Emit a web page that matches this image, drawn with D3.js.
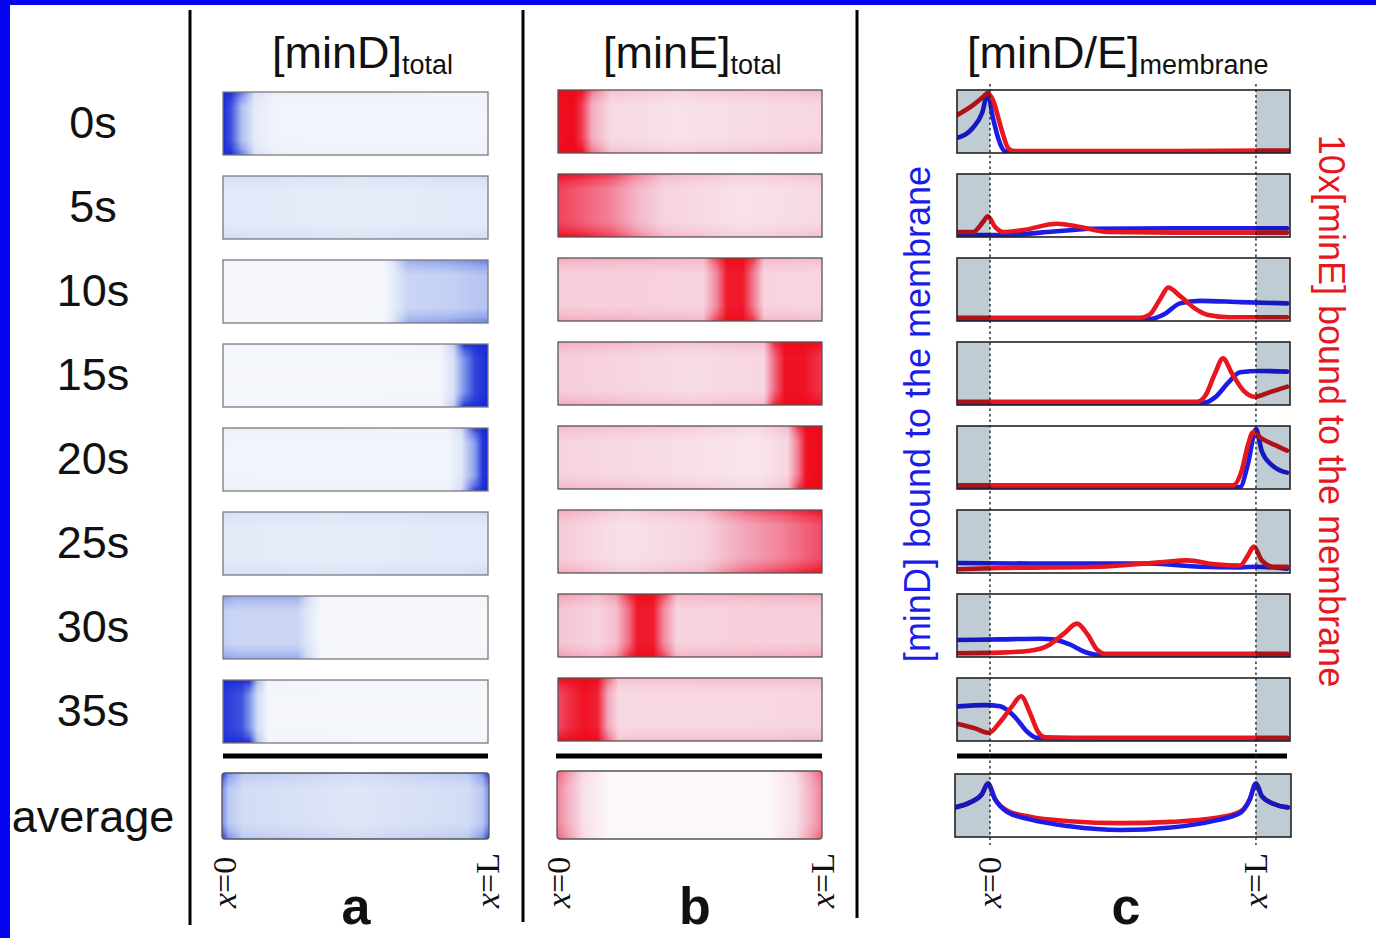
<!DOCTYPE html>
<html><head><meta charset="utf-8">
<script src="https://cdn.jsdelivr.net/npm/d3@7"></script>
<style>body{margin:0;background:#fff}svg{display:block}</style>
</head><body>
<svg id="fig" width="1376" height="938"></svg>
<script>
// ---------------- DATA ----------------
const timeLabels = ["0s","5s","10s","15s","20s","25s","30s","35s"];
const avgLabel = "average";
const panelLetters = ["a","b","c"];
const xEndLabels = ["0","L"];

// [minD]total profiles along the cell: [position (0..1), relative level]
const minDTotal = [
  [[0,1],[0.03,0.85],[0.07,0.42],[0.12,0.12],[0.2,0.05],[1,0.04]],
  [[0,0.14],[0.5,0.11],[1,0.14]],
  [[0,0.02],[0.6,0.02],[0.64,0.1],[0.7,0.3],[0.85,0.33],[1,0.4]],
  [[0,0.02],[0.82,0.03],[0.87,0.2],[0.91,0.6],[0.95,0.9],[1,1]],
  [[0,0.05],[0.85,0.04],[0.9,0.15],[0.95,0.55],[0.98,0.95],[1,1]],
  [[0,0.13],[0.4,0.11],[1,0.14]],
  [[0,0.34],[0.05,0.3],[0.28,0.3],[0.32,0.15],[0.37,0.02],[1,0.02]],
  [[0,0.95],[0.07,0.85],[0.1,0.6],[0.13,0.25],[0.17,0.03],[1,0.02]]
];
const minDTotalAvg = [[0,0.62],[0.025,0.38],[0.08,0.24],[0.5,0.16],[0.92,0.24],[0.975,0.38],[1,0.62]];

// [minE]total profiles
const minETotal = [
  [[0,0.95],[0.06,1],[0.09,0.7],[0.13,0.28],[0.2,0.13],[0.45,0.1],[1,0.14]],
  [[0,0.65],[0.08,0.55],[0.2,0.42],[0.3,0.25],[0.4,0.15],[0.7,0.1],[1,0.13]],
  [[0,0.17],[0.55,0.15],[0.6,0.4],[0.64,0.9],[0.7,0.9],[0.74,0.45],[0.78,0.15],[1,0.14]],
  [[0,0.17],[0.5,0.12],[0.78,0.14],[0.82,0.5],[0.86,0.95],[0.93,0.95],[1,0.72]],
  [[0,0.15],[0.5,0.11],[0.75,0.08],[0.87,0.14],[0.91,0.45],[0.94,0.95],[1,1]],
  [[0,0.18],[0.25,0.1],[0.55,0.15],[0.7,0.3],[0.85,0.42],[1,0.6]],
  [[0,0.2],[0.15,0.15],[0.22,0.22],[0.27,0.5],[0.3,0.9],[0.36,0.9],[0.4,0.4],[0.45,0.15],[1,0.17]],
  [[0,0.6],[0.05,0.8],[0.1,0.95],[0.15,0.85],[0.19,0.3],[0.23,0.13],[1,0.14]]
];
const minETotalAvg = [[0,0.42],[0.04,0.28],[0.1,0.1],[0.2,0.01],[0.8,0.01],[0.9,0.1],[0.96,0.28],[1,0.42]];

// membrane-bound profiles: [position in units of L, level (0..1 of box)]
const minDMem = [
  [[-0.124,0.24],[-0.064,0.4],[-0.03,0.63],[-0.008,0.95],[0.011,0.56],[0.038,0.15],[0.056,0.03],[0.2,0.02],[1.128,0.02]],
  [[-0.124,0.04],[0.064,0.03],[0.188,0.07],[0.312,0.11],[0.376,0.13],[0.7,0.14],[1.117,0.14]],
  [[-0.124,0.03],[0.6,0.03],[0.66,0.12],[0.714,0.28],[0.79,0.32],[0.94,0.3],[1.117,0.28]],
  [[-0.124,0.03],[0.8,0.03],[0.846,0.12],[0.895,0.35],[0.94,0.52],[1.015,0.54],[1.117,0.53]],
  [[-0.124,0.03],[0.94,0.03],[0.97,0.4],[1.0,0.95],[1.022,0.6],[1.06,0.38],[1.117,0.26]],
  [[-0.124,0.16],[0.2,0.15],[0.6,0.15],[0.79,0.1],[0.94,0.09],[1.0,0.1],[1.117,0.07]],
  [[-0.124,0.27],[0.038,0.28],[0.188,0.29],[0.237,0.28],[0.3,0.2],[0.357,0.08],[0.414,0.03],[1.117,0.03]],
  [[-0.12,0.55],[-0.019,0.57],[0.038,0.55],[0.094,0.38],[0.139,0.15],[0.177,0.05],[0.3,0.04],[1.117,0.04]]
];
const minEMem = [
  [[-0.124,0.6],[-0.064,0.76],[-0.026,0.89],[-0.008,0.95],[0.011,0.84],[0.045,0.35],[0.068,0.08],[0.09,0.03],[0.6,0.03],[1.128,0.04]],
  [[-0.124,0.08],[-0.064,0.08],[-0.026,0.24],[-0.008,0.33],[0.019,0.16],[0.049,0.08],[0.124,0.11],[0.252,0.21],[0.338,0.16],[0.44,0.08],[0.7,0.07],[1.117,0.07]],
  [[-0.124,0.05],[0.564,0.05],[0.6,0.1],[0.64,0.35],[0.67,0.53],[0.714,0.4],[0.77,0.2],[0.816,0.1],[0.9,0.06],[1.117,0.06]],
  [[-0.124,0.05],[0.778,0.05],[0.81,0.15],[0.846,0.5],[0.876,0.74],[0.91,0.5],[0.955,0.22],[0.996,0.13],[1.05,0.2],[1.117,0.29]],
  [[-0.124,0.06],[0.914,0.06],[0.947,0.3],[0.97,0.7],[0.989,0.9],[1.022,0.8],[1.07,0.7],[1.117,0.61]],
  [[-0.124,0.06],[0.038,0.08],[0.41,0.1],[0.64,0.17],[0.74,0.2],[0.846,0.14],[0.94,0.12],[0.97,0.28],[0.992,0.42],[1.022,0.2],[1.064,0.1],[1.117,0.1]],
  [[-0.124,0.06],[0.038,0.07],[0.15,0.1],[0.226,0.2],[0.28,0.38],[0.327,0.53],[0.368,0.35],[0.402,0.12],[0.432,0.05],[1.117,0.05]],
  [[-0.12,0.27],[-0.056,0.2],[-0.004,0.13],[0.038,0.3],[0.083,0.55],[0.117,0.71],[0.15,0.45],[0.18,0.15],[0.207,0.06],[0.4,0.05],[1.117,0.05]]
];
const minDMemAvg = [[-0.132,0.47],[-0.075,0.55],[-0.03,0.68],[-0.008,0.85],[0.019,0.6],[0.064,0.4],[0.15,0.28],[0.3,0.17],[0.49,0.11],[0.68,0.15],[0.846,0.26],[0.94,0.38],[0.977,0.6],[1.0,0.85],[1.022,0.65],[1.07,0.52],[1.12,0.47]];
const minEMemAvg = [[-0.132,0.47],[-0.075,0.55],[-0.03,0.68],[-0.008,0.85],[0.019,0.6],[0.064,0.42],[0.15,0.32],[0.3,0.25],[0.49,0.22],[0.68,0.24],[0.846,0.3],[0.94,0.4],[0.977,0.6],[1.0,0.85],[1.022,0.65],[1.07,0.52],[1.12,0.47]];

// ---------------- DRAWING ----------------
const svg = d3.select("#fig");
const FONT = "'Liberation Sans', Arial, Helvetica, sans-serif";
const defs = svg.append("defs");
svg.append("rect").attr("width",1376).attr("height",938).attr("fill","#fff");
// blue frame
svg.append("rect").attr("x",0).attr("y",0).attr("width",1376).attr("height",5).attr("fill","#0505f2");
svg.append("rect").attr("x",0).attr("y",0).attr("width",10).attr("height",938).attr("fill","#0505f2");

// membrane mask (darker near top/bottom walls)
const mg = defs.append("linearGradient").attr("id","edgeGrad").attr("x1",0).attr("y1",0).attr("x2",0).attr("y2",1);
[[0,1],[0.1,0.45],[0.24,0],[0.76,0],[0.9,0.45],[1,1]].forEach(s=>mg.append("stop").attr("offset",s[0]).attr("stop-color","#fff").attr("stop-opacity",s[1]));
defs.append("mask").attr("id","edgeMask").attr("maskContentUnits","objectBoundingBox")
  .append("rect").attr("width",1).attr("height",1).attr("fill","url(#edgeGrad)");

const rowsA = d3.scaleBand().domain(timeLabels).range([92, 743]).paddingInner(0.25);
const rowsBC = d3.scaleBand().domain(timeLabels).range([90, 741]).paddingInner(0.25);

const blueScale = d3.scaleLinear().domain([0,0.12,0.35,0.65,1]).range(["#f9fafd","#e5ebf8","#c2cff3","#6f88e8","#1b2ad6"]).clamp(true);
const redScale = d3.scaleLinear().domain([0,0.12,0.3,0.6,1]).range(["#fefafb","#f7dce6","#f3a8bb","#f04a64","#ee0a1a"]).clamp(true);

let gid = 0;
function gradient(profile, x, colorFn, boost){
  const id = "g"+(gid++);
  const lg = defs.append("linearGradient").attr("id",id).attr("gradientUnits","userSpaceOnUse")
    .attr("x1",x(0)).attr("x2",x(1)).attr("y1",0).attr("y2",0);
  profile.forEach(p=>lg.append("stop").attr("offset",p[0]).attr("stop-color",colorFn(Math.min(1,p[1]*boost))));
  return "url(#"+id+")";
}
function heatBox(x, y, h, profile, colorFn, stroke, rx, boost){
  const x0 = x(0), w = x(1)-x(0);
  svg.append("rect").attr("x",x0).attr("y",y).attr("width",w).attr("height",h).attr("rx",rx)
    .attr("fill",gradient(profile,x,colorFn,1));
  svg.append("rect").attr("x",x0).attr("y",y).attr("width",w).attr("height",h).attr("rx",rx)
    .attr("fill",gradient(profile,x,colorFn,boost)).attr("mask","url(#edgeMask)");
  svg.append("rect").attr("x",x0).attr("y",y).attr("width",w).attr("height",h).attr("rx",rx)
    .attr("fill","none").attr("stroke",stroke).attr("stroke-width",1.3);
}

// panel a
const xA = d3.scaleLinear().domain([0,1]).range([223,488]);
timeLabels.forEach((t,i)=>heatBox(xA, rowsA(t), rowsA.bandwidth(), minDTotal[i], blueScale, "#7a7a7a", 0, 1.7));
heatBox(d3.scaleLinear().domain([0,1]).range([222,489]), 773, 66, minDTotalAvg, blueScale, "#555", 3, 1.6);
svg.append("line").attr("x1",223).attr("x2",488).attr("y1",756).attr("y2",756).attr("stroke","#000").attr("stroke-width",5);

// panel b
const xB = d3.scaleLinear().domain([0,1]).range([558,822]);
timeLabels.forEach((t,i)=>heatBox(xB, rowsBC(t), rowsBC.bandwidth(), minETotal[i], redScale, "#555", 0, 1.7));
heatBox(d3.scaleLinear().domain([0,1]).range([557,822]), 771, 68, minETotalAvg, redScale, "#555", 3, 1.3);
svg.append("line").attr("x1",556).attr("x2",822).attr("y1",756).attr("y2",756).attr("stroke","#000").attr("stroke-width",5);

// panel c
const xC = d3.scaleLinear().domain([-0.124,1.128]).range([957,1290]);
const capFill = "#c0ccd3";
function memBox(top, h, left, right, dSeries, eSeries, blueOnTop){
  const y = d3.scaleLinear().domain([0,1]).range([top+h, top]);
  const id = "c"+(gid++);
  defs.append("clipPath").attr("id",id).append("rect").attr("x",left).attr("y",top).attr("width",right-left).attr("height",h);
  svg.append("rect").attr("x",left).attr("y",top).attr("width",right-left).attr("height",h).attr("fill","#fff");
  const line = d3.line().x(d=>xC(d[0])).y(d=>y(d[1])).curve(d3.curveMonotoneX);
  const g = svg.append("g").attr("clip-path","url(#"+id+")");
  const order = blueOnTop ? [[eSeries,"#e8161e"],[dSeries,"#1c1ce8"]] : [[dSeries,"#1c1ce8"],[eSeries,"#e8161e"]];
  order.forEach(o=>g.append("path").attr("d",line(o[0])).attr("fill","none").attr("stroke",o[1])
    .attr("stroke-width",4.6).attr("stroke-linejoin","round").attr("stroke-linecap","round"));
  g.append("rect").attr("x",left).attr("y",top).attr("width",xC(0)-left).attr("height",h).attr("fill",capFill).style("mix-blend-mode","multiply");
  g.append("rect").attr("x",xC(1)).attr("y",top).attr("width",right-xC(1)).attr("height",h).attr("fill",capFill).style("mix-blend-mode","multiply");
  svg.append("rect").attr("x",left).attr("y",top).attr("width",right-left).attr("height",h)
    .attr("fill","none").attr("stroke","#222").attr("stroke-width",1.6);
}
timeLabels.forEach((t,i)=>memBox(rowsBC(t), rowsBC.bandwidth(), 957, 1290, minDMem[i], minEMem[i], false));
memBox(774, 63, 955, 1291, minDMemAvg, minEMemAvg, true);
svg.append("line").attr("x1",957).attr("x2",1287).attr("y1",756).attr("y2",756).attr("stroke","#000").attr("stroke-width",5);
[0,1].forEach(v=>svg.append("line").attr("x1",xC(v)).attr("x2",xC(v)).attr("y1",84).attr("y2",845)
  .attr("stroke","#222").attr("stroke-width",1.4).attr("stroke-dasharray","2.5,3"));

// divider lines
[[190,925],[523,922],[857,918]].forEach(d=>svg.append("line").attr("x1",d[0]).attr("x2",d[0]).attr("y1",10).attr("y2",d[1]).attr("stroke","#000").attr("stroke-width",3));

// row labels
timeLabels.forEach(t=>svg.append("text").attr("x",93).attr("y",rowsBC(t)+rowsBC.bandwidth()/2+16)
  .attr("text-anchor","middle").attr("font-family",FONT).attr("font-size",45).attr("fill","#111").text(t));
svg.append("text").attr("x",93).attr("y",832).attr("text-anchor","middle").attr("font-family",FONT).attr("font-size",45).attr("fill","#111").text(avgLabel);

// titles
function title(x, main, sub){
  const t = svg.append("text").attr("x",x).attr("y",68).attr("font-family",FONT).attr("font-size",45).attr("fill","#111");
  t.append("tspan").text(main);
  t.append("tspan").attr("font-size",27).attr("dy",6).text(sub);
}
title(272, "[minD]", "total");
title(603, "[minE]", "total");
title(967, "[minD/E]", "membrane");

// rotated axis labels for panel c
svg.append("text").attr("transform","translate(930,414) rotate(-90)").attr("text-anchor","middle")
  .attr("font-family",FONT).attr("font-size",36).attr("fill","#1c1ce8").text("[minD] bound to the membrane");
svg.append("text").attr("transform","translate(1319,411) rotate(90)").attr("text-anchor","middle")
  .attr("font-family",FONT).attr("font-size",36).attr("fill","#e8161e").text("10x[minE] bound to the membrane");

// x end labels
function xLabel(cx, val){
  const t = svg.append("text").attr("transform",`translate(${cx+11.5},908) rotate(-90)`)
    .attr("font-family","'Liberation Serif', 'Times New Roman', serif").attr("font-size",34).attr("fill","#111");
  t.append("tspan").attr("font-style","italic").text("x");
  t.append("tspan").text("="+val);
}
[[224,487],[558,822],[xC(0),xC(1)]].forEach(p=>{ xLabel(p[0], xEndLabels[0]); xLabel(p[1], xEndLabels[1]); });

// panel letters
[[356,panelLetters[0]],[695,panelLetters[1]],[1126,panelLetters[2]]].forEach(p=>svg.append("text")
  .attr("x",p[0]).attr("y",924).attr("text-anchor","middle").attr("font-family",FONT).attr("font-weight","bold")
  .attr("font-size",52).attr("fill","#111").text(p[1]));
</script>
</body></html>
